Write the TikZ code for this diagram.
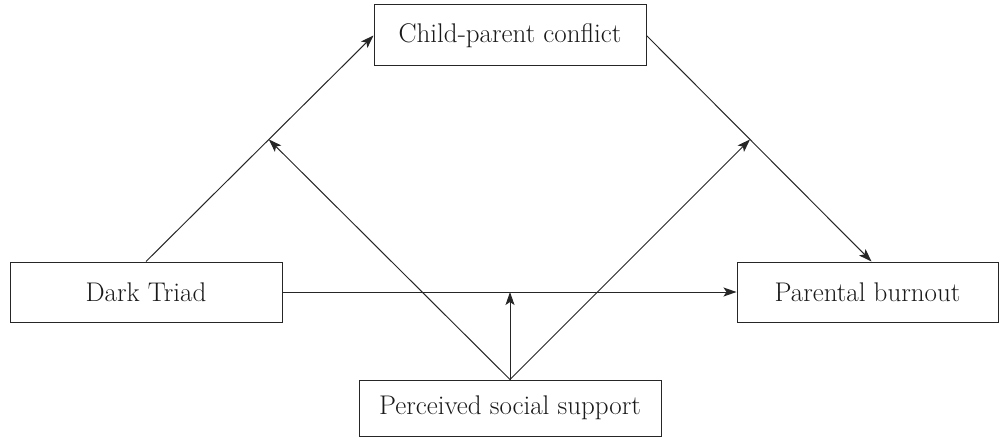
\documentclass[tikz,border=0pt]{standalone}
\usetikzlibrary{arrows.meta}
\begin{document}
\begin{tikzpicture}[x=1pt,y=-1pt,
  box/.style={draw=black!85, line width=1pt, inner sep=0pt, text=black!90,
    font=\fontsize{27}{31}\selectfont},
  link/.style={draw=black!85, line width=1pt},
  arr/.style={link, -{Stealth[length=13pt,width=9pt,inset=3pt]}}]
\useasboundingbox (0,0) rectangle (1003,441);
\node[box, minimum width=272pt, minimum height=61pt] (CPC) at (510,35.5) {Child-parent conflict};
\node[box, minimum width=272pt, minimum height=60pt] (DT) at (146,292) {Dark Triad};
\node[box, minimum width=261pt, minimum height=60pt] (PB) at (867.5,292) {Parental burnout};
\node[box, minimum width=302pt, minimum height=56pt] (PSS) at (510,408) {Perceived social support};
\draw[arr] (DT.north) -- coordinate[pos=0.54] (m1) (CPC.west);
\draw[arr] (CPC.east) -- coordinate[pos=0.46] (m2) ([xshift=4pt]PB.north);
\draw[arr] (DT.east) -- (PB.west);
\coordinate (m3) at (PSS.north |- DT.east);
\draw[arr] (PSS.north) -- (m1);
\draw[arr] (PSS.north) -- (m2);
\draw[arr] (PSS.north) -- (m3);
\end{tikzpicture}
\end{document}
